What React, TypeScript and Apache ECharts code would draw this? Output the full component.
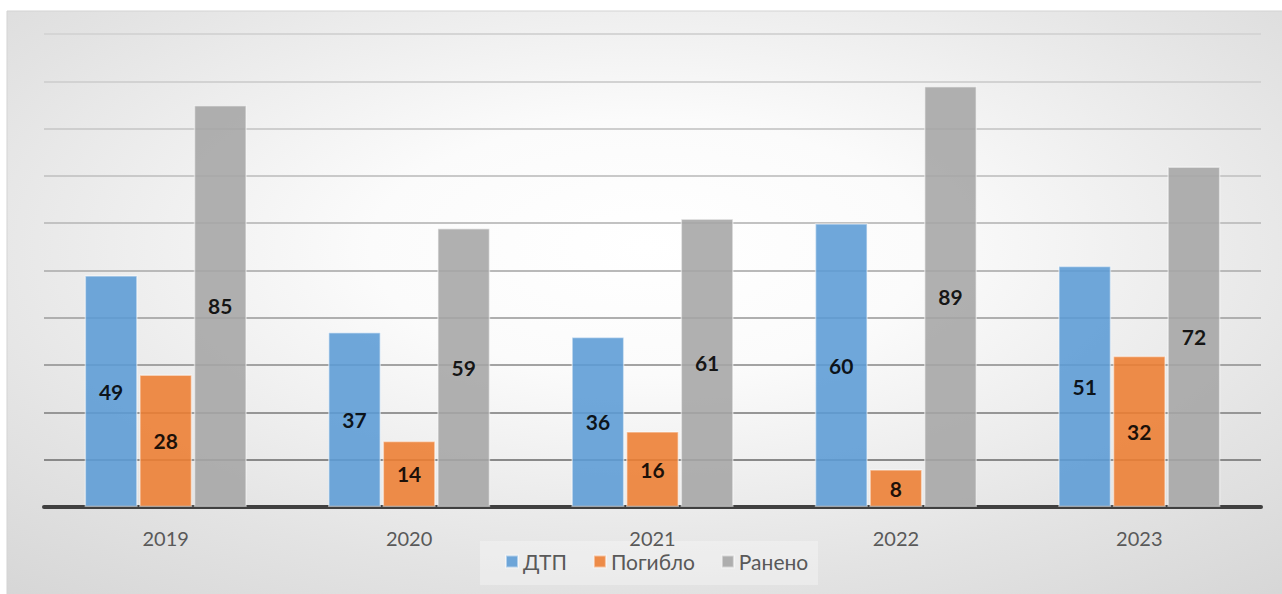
import React, { useEffect, useRef } from "react";
import * as echarts from "echarts";

const categories = ["2019", "2020", "2021", "2022", "2023"];
const seriesNames = ["ДТП", "Погибло", "Ранено"];
const dtp = [49, 37, 36, 60, 51];
const killed = [28, 14, 16, 8, 32];
const injured = [85, 59, 61, 89, 72];
const colors = ["#5B9BD5", "#ED7D31", "#A5A5A5"];
// split line colours from value 0 up to 100
const gridColors = ["#7a7a7a", "#898989", "#969696", "#a3a3a3", "#afafaf", "#b9b9b9", "#c2c2c2", "#c9c9c9", "#cecece", "#d2d2d2", "#d5d5d5"];

export default function App() {
  const ref = useRef<HTMLDivElement>(null);
  useEffect(() => {
    if (!ref.current) return;
    const chart = echarts.init(ref.current, undefined, { renderer: "svg" });
    const values = [dtp, killed, injured];
    const font = "Lato, 'Open Sans', sans-serif";
    chart.setOption({
      animation: false,
      backgroundColor: "#ffffff",
      graphic: [
        {
          type: "rect",
          z: -10,
          silent: true,
          shape: { x: 7, y: 11, width: 1280, height: 590 },
          style: {
            fill: {
              type: "radial",
              x: 0.5,
              y: 0.4,
              r: 1.2,
              colorStops: [
                { offset: 0, color: "#ffffff" },
                { offset: 0.18, color: "#fbfbfb" },
                { offset: 0.47, color: "#e3e3e3" },
                { offset: 0.94, color: "#c1c1c1" },
                { offset: 1, color: "#bbbbbb" },
              ],
            },
            stroke: "#d3d3d3",
            lineWidth: 1,
          },
        },
        {
          type: "rect",
          z: -5,
          silent: true,
          shape: { x: 480, y: 541, width: 338, height: 44 },
          style: { fill: "rgba(255,255,255,0.3)" },
        },
      ],
      grid: { left: 44, right: 21, top: 34, bottom: 87, containLabel: false },
      legend: {
        data: seriesNames,
        bottom: 17,
        left: 500,
        itemWidth: 12,
        itemHeight: 12,
        itemGap: 26,
        icon: "rect",
        textStyle: { fontFamily: font, fontSize: 21, color: "#595959" },
      },
      xAxis: {
        type: "category",
        data: categories,
        axisLine: { show: true, lineStyle: { color: "#404040", width: 4 } },
        axisTick: { show: false },
        axisLabel: { fontFamily: font, fontSize: 20, color: "#595959", margin: 21 },
      },
      yAxis: {
        type: "value",
        min: 0,
        max: 100,
        interval: 10,
        axisLabel: { show: false },
        axisLine: { show: false },
        axisTick: { show: false },
        splitLine: { show: true, lineStyle: { color: gridColors, width: 2 } },
      },
      series: seriesNames.map((name, i) => ({
        name,
        type: "bar",
        data: values[i],
        barWidth: 53,
        barGap: "3%",
        z: 1,
        itemStyle: {
          color: colors[i],
          opacity: 0.88,
          borderColor: "rgba(255,255,255,0.55)",
          borderWidth: 1.5,
        },
        label: {
          show: true,
          position: "inside",
          fontFamily: font,
          fontSize: 21,
          fontWeight: "bold",
          color: "#000000",
        },
      })),
    });
    return () => chart.dispose();
  }, []);
  return (
    <div
      ref={ref}
      style={{ position: "fixed", left: 0, top: 0, width: 1282, height: 594 }}
    />
  );
}
